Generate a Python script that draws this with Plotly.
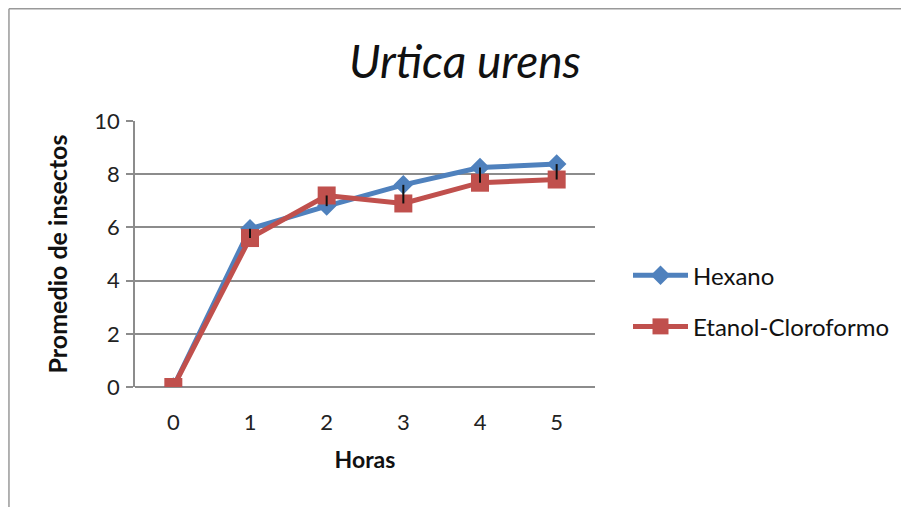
import plotly.graph_objects as go

horas = [0, 1, 2, 3, 4, 5]
hexano = [0, 5.95, 6.8, 7.6, 8.25, 8.38]
etanol_cloroformo = [0, 5.6, 7.2, 6.9, 7.68, 7.8]
y_ticks = [0, 2, 4, 6, 8, 10]

BLUE = "#4F81BD"
RED = "#C0504D"
FONT = "Lato"

W, H = 893, 499
L, T = 127, 113
PW, PH = 460, 266

fig = go.Figure()
fig.add_trace(go.Scatter(
    x=horas, y=hexano, mode="lines+markers", name="Hexano", legendgroup="a",
    line=dict(color=BLUE, width=5),
    marker=dict(symbol="diamond", size=15, color=BLUE),
))
fig.add_trace(go.Scatter(
    x=horas, y=etanol_cloroformo, mode="lines+markers", name="Etanol-Cloroformo", legendgroup="b",
    line=dict(color=RED, width=5),
    marker=dict(symbol="square", size=18, color=RED),
))

# high-low lines (connect the two series at each hour)
hx, hy = [], []
for h, a, b in zip(horas, hexano, etanol_cloroformo):
    hx += [h, h, None]
    hy += [min(a, b), max(a, b), None]
fig.add_trace(go.Scatter(x=hx, y=hy, mode="lines", line=dict(color="#111111", width=2),
                         showlegend=False, hoverinfo="skip"))

border = dict(color="#999999", width=1.5)
fig.update_layout(
    width=W, height=H,
    margin=dict(l=L, r=W - L - PW, t=T, b=H - T - PH, autoexpand=False),
    paper_bgcolor="white", plot_bgcolor="white",
    font=dict(family=FONT, color="#222222", size=22),
    title=dict(text="<i>Urtica urens</i>", xref="container", x=(465 - 8) / W, xanchor="center",
               yref="container", y=1 - 54 / H, yanchor="middle",
               font=dict(family=FONT, size=46, color="#111111")),
    showlegend=True,
    legend=dict(x=(628 - 135) / PW, xanchor="left", y=0.323, yanchor="middle",
                font=dict(family=FONT, size=24, color="#111111"),
                tracegroupgap=17, itemwidth=55, bgcolor="rgba(0,0,0,0)"),
    shapes=[
        dict(type="line", xref="paper", yref="paper", x0=-0.274, x1=-0.274, y0=-1.0, y1=1.422,
             line=border, layer="below"),
        dict(type="line", xref="paper", yref="paper", x0=-0.274, x1=3.0, y0=1.422, y1=1.422,
             line=border, layer="below"),
    ],
)
fig.update_xaxes(
    range=[-0.5, 5.5], tickmode="array", tickvals=horas, ticktext=[str(h) for h in horas],
    showgrid=False, showline=False, zeroline=False, ticks="",
    tickfont=dict(size=22, color="#222222"), ticklabelstandoff=20,
    title=dict(text="<b>Horas</b>", font=dict(size=23, color="#111111"), standoff=17),
)
fig.update_yaxes(
    range=[0, 10], tickmode="array", tickvals=y_ticks,
    showgrid=True, gridcolor="#8C8C8C", gridwidth=1.5,
    showline=True, linecolor="#8C8C8C", linewidth=1.5,
    zeroline=True, zerolinecolor="#8C8C8C", zerolinewidth=1.5,
    ticks="outside", ticklen=7, tickcolor="#8C8C8C", tickwidth=1.5,
    tickfont=dict(size=22, color="#222222"), ticklabelstandoff=2,
    title=dict(text="<b>Promedio de insectos</b>", font=dict(size=25, color="#111111"), standoff=20),
)

fig.write_html("out.html")
